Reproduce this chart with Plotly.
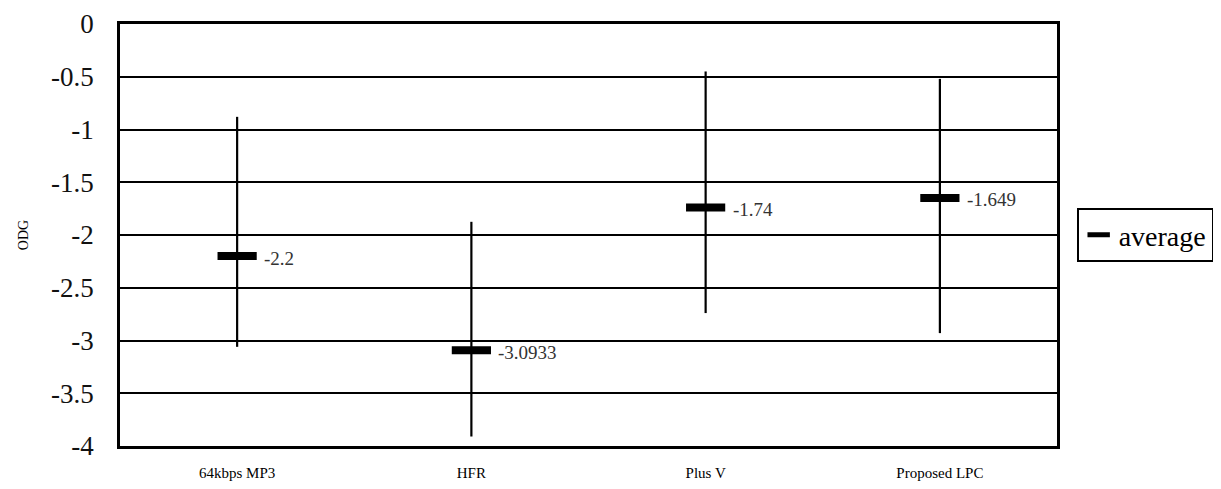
import plotly.graph_objects as go

categories = ["64kbps MP3", "HFR", "Plus V", "Proposed LPC"]
average = [-2.2, -3.0933, -1.74, -1.649]
high = [-0.88, -1.875, -0.45, -0.52]
low = [-3.06, -3.91, -2.74, -2.93]
value_labels = ["-2.2", "-3.0933", "-1.74", "-1.649"]
y_ticks = [0, -0.5, -1, -1.5, -2, -2.5, -3, -3.5, -4]

FONT = "Liberation Serif"

xs = list(range(len(categories)))
err_plus = [h - a for h, a in zip(high, average)]
err_minus = [a - l for a, l in zip(average, low)]

fig = go.Figure()
fig.add_trace(go.Scatter(
    x=xs, y=average, mode="markers", name="average",
    marker=dict(symbol="line-ew", size=28, color="black",
                line=dict(width=8, color="black")),
    error_y=dict(type="data", symmetric=False, array=err_plus,
                 arrayminus=err_minus, width=0, thickness=2.2, color="black"),
    showlegend=True,
))

for x, y, t in zip(xs, average, value_labels):
    fig.add_annotation(x=x, y=y, text=t, showarrow=False, xanchor="left",
                       xshift=25, yshift=-2,
                       font=dict(family=FONT, size=19, color="#333"))

fig.update_layout(
    width=1221, height=489,
    margin=dict(l=112, r=172, t=16, b=51, autoexpand=False),
    paper_bgcolor="white", plot_bgcolor="white",
    font=dict(family=FONT, color="black"),
    xaxis=dict(
        range=[-0.5, 3.5], tickvals=xs, ticktext=categories,
        showgrid=False, zeroline=False, ticks="", automargin=False,
        showline=True, linecolor="black", linewidth=2.5, mirror=True,
        tickfont=dict(family=FONT, size=15), ticklabelstandoff=11,
    ),
    xaxis2=dict(
        overlaying="x", side="top", range=[-0.5, 3.5], automargin=False,
        tickvals=[0.5, 1.5, 2.5], showticklabels=False,
        ticks="outside", ticklen=7, tickwidth=2, tickcolor="black",
        showgrid=False, zeroline=False, showline=True,
        linecolor="black", linewidth=3.5,
    ),
    yaxis=dict(
        range=[-4, 0], tickvals=y_ticks, ticktext=[str(v) for v in y_ticks],
        showgrid=True, gridcolor="black", gridwidth=2.2, zeroline=False,
        showline=True, linecolor="black", linewidth=2.5, mirror=True,
        ticks="", tickfont=dict(family=FONT, size=27, color="#111"),
        ticklabelstandoff=18, automargin=False,
        title=dict(text="ODG", font=dict(family=FONT, size=14), standoff=20),
    ),
    legend=dict(
        x=1.021, y=0.5, xanchor="left", yanchor="middle",
        bordercolor="black", borderwidth=2, bgcolor="white",
        font=dict(family=FONT, size=28), itemwidth=30,
        tracegroupgap=0,
    ),
)

fig.write_html("out.html")
